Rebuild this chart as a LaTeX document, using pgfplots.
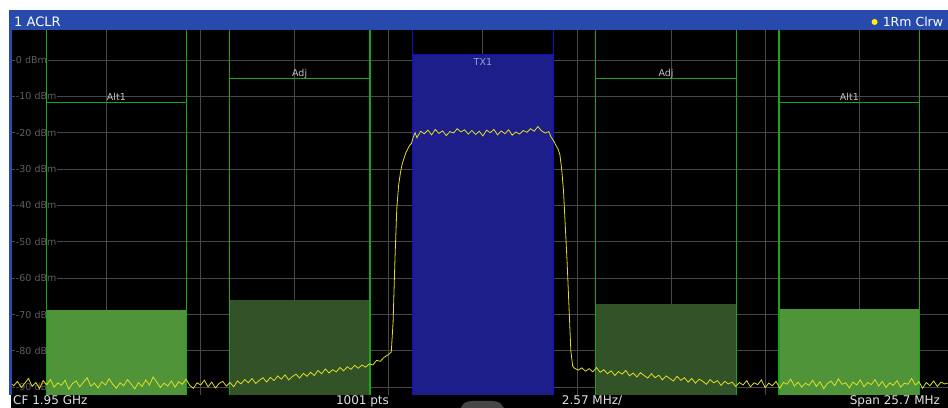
\documentclass[border=0pt]{standalone}
\usepackage{pgfplots}
\usepackage{pgfplotstable}
\pgfplotsset{compat=1.18}
\usepackage{fontspec}
\setmainfont{DejaVu Sans}
\definecolor{titleblue}{RGB}{40,74,172}
\definecolor{gridgray}{RGB}{72,72,72}
\definecolor{chgreen}{RGB}{25,165,25}
\definecolor{altfill}{RGB}{80,148,58}
\definecolor{adjfill}{RGB}{50,82,40}
\definecolor{txfill}{RGB}{30,30,138}
\definecolor{txline}{RGB}{15,15,200}
\definecolor{tracecol}{RGB}{222,222,40}
\definecolor{lblgray}{RGB}{95,95,95}
\definecolor{chlbl}{RGB}{195,195,195}
\definecolor{txlbl}{RGB}{160,160,205}
\definecolor{tabgray}{RGB}{70,70,70}

\pgfplotstableread{
x y
-12.85 -89.2
-12.8 -89.6
-12.7 -88.4
-12.6 -90.1
-12.5 -88.9
-12.4 -87.6
-12.3 -89.8
-12.2 -88.7
-12.1 -90.4
-12.0 -88.2
-11.9 -89.3
-11.8 -87.9
-11.7 -90.0
-11.6 -88.8
-11.5 -89.5
-11.4 -88.1
-11.3 -90.6
-11.2 -89.0
-11.1 -88.3
-11.0 -89.9
-10.9 -88.6
-10.8 -87.4
-10.7 -89.7
-10.6 -88.9
-10.5 -90.2
-10.4 -88.5
-10.3 -89.4
-10.2 -87.7
-10.1 -89.2
-10.0 -90.3
-9.9 -88.8
-9.8 -89.6
-9.7 -87.9
-9.6 -89.1
-9.5 -90.5
-9.4 -88.7
-9.3 -89.8
-9.2 -88.0
-9.1 -89.4
-9.0 -87.2
-8.9 -88.6
-8.8 -90.1
-8.7 -88.9
-8.6 -89.7
-8.5 -88.3
-8.4 -90.0
-8.3 -88.5
-8.2 -89.2
-8.1 -87.8
-8.0 -89.5
-7.9 -90.3
-7.8 -88.8
-7.7 -89.4
-7.6 -88.1
-7.5 -89.9
-7.4 -88.6
-7.3 -90.2
-7.2 -89.0
-7.1 -88.4
-7.0 -89.7
-6.9 -88.7
-6.8 -89.9
-6.7 -88.3
-6.6 -89.1
-6.5 -87.9
-6.4 -88.8
-6.3 -87.6
-6.2 -89.0
-6.1 -88.1
-6.0 -87.4
-5.9 -88.6
-5.8 -87.3
-5.7 -88.2
-5.6 -86.9
-5.5 -87.8
-5.4 -86.6
-5.3 -88.0
-5.2 -87.1
-5.1 -86.4
-5.0 -87.5
-4.9 -86.2
-4.8 -87.0
-4.7 -85.9
-4.6 -86.8
-4.5 -85.4
-4.4 -86.3
-4.3 -85.0
-4.2 -86.1
-4.1 -85.2
-4.0 -85.8
-3.9 -84.6
-3.8 -85.5
-3.7 -84.4
-3.6 -85.1
-3.5 -84.0
-3.4 -84.8
-3.3 -83.9
-3.2 -84.5
-3.1 -83.6
-3.0 -83.9
-2.9 -82.6
-2.8 -82.9
-2.7 -81.8
-2.6 -81.2
-2.55 -80.8
-2.5 -80.3
-2.45 -72.0
-2.4 -55.0
-2.35 -41.0
-2.3 -34.5
-2.25 -31.0
-2.2 -28.5
-2.15 -27.0
-2.1 -25.5
-2.05 -24.5
-2.0 -23.5
-1.95 -23.0
-1.9 -21.2
-1.85 -20.0
-1.8 -21.4
-1.7 -19.6
-1.6 -20.3
-1.5 -19.3
-1.4 -20.6
-1.3 -19.1
-1.2 -20.2
-1.1 -19.5
-1.0 -20.8
-0.9 -19.7
-0.8 -20.1
-0.7 -18.9
-0.6 -19.8
-0.5 -19.2
-0.4 -20.4
-0.3 -19.4
-0.2 -20.5
-0.1 -19.6
0.0 -20.9
0.1 -19.3
0.2 -20.0
0.3 -19.1
0.4 -20.6
0.5 -19.5
0.6 -20.3
0.7 -19.2
0.8 -20.7
0.9 -19.8
1.0 -20.4
1.1 -19.4
1.2 -19.9
1.3 -18.9
1.4 -19.6
1.5 -18.3
1.6 -19.5
1.7 -20.1
1.8 -19.7
1.85 -21.0
1.9 -21.8
1.95 -22.6
2.0 -23.6
2.05 -24.5
2.1 -26.0
2.15 -30.0
2.2 -36.0
2.25 -46.0
2.3 -56.0
2.35 -68.0
2.4 -80.0
2.45 -84.2
2.5 -84.8
2.6 -85.3
2.7 -84.7
2.8 -85.6
2.9 -84.9
3.0 -85.8
3.1 -84.6
3.2 -85.9
3.3 -85.2
3.4 -86.3
3.5 -85.5
3.6 -86.8
3.7 -85.7
3.8 -86.4
3.9 -85.4
4.0 -86.9
4.1 -86.1
4.2 -87.2
4.3 -86.0
4.4 -86.8
4.5 -87.5
4.6 -86.3
4.7 -87.4
4.8 -86.7
4.9 -88.0
5.0 -86.9
5.1 -87.6
5.2 -88.3
5.3 -87.0
5.4 -88.1
5.5 -87.4
5.6 -88.6
5.7 -87.6
5.8 -88.9
5.9 -87.8
6.0 -88.4
6.1 -89.2
6.2 -87.9
6.3 -88.8
6.4 -88.2
6.5 -89.5
6.6 -88.4
6.7 -89.1
6.8 -88.6
6.9 -89.8
7.0 -88.7
7.1 -89.4
7.2 -88.2
7.3 -89.9
7.4 -88.8
7.5 -89.3
7.6 -88.0
7.7 -90.1
7.8 -88.9
7.9 -89.6
8.0 -88.4
8.1 -90.3
8.2 -88.7
8.3 -89.2
8.4 -87.8
8.5 -89.7
8.6 -88.6
8.7 -90.0
8.8 -88.9
8.9 -89.5
9.0 -88.1
9.1 -89.8
9.2 -88.5
9.3 -90.4
9.4 -89.0
9.5 -88.3
9.6 -89.6
9.7 -87.7
9.8 -89.2
9.9 -88.8
10.0 -90.2
10.1 -88.6
10.2 -89.4
10.3 -88.0
10.4 -89.9
10.5 -88.7
10.6 -89.3
10.7 -87.9
10.8 -89.7
10.9 -88.4
11.0 -90.1
11.1 -88.8
11.2 -89.5
11.3 -88.2
11.4 -90.0
11.5 -88.9
11.6 -89.2
11.7 -87.6
11.8 -89.4
11.9 -88.5
12.0 -90.3
12.1 -88.7
12.2 -89.6
12.3 -88.3
12.4 -89.8
12.5 -88.6
12.6 -89.1
12.7 -88.9
}\tracetable

\begin{document}
\begin{tikzpicture}[x=1bp,y=1bp,
  lbl/.style={anchor=west, fill=black, inner sep=0.8bp, xshift=3bp, text=lblgray,
     font=\fontsize{9.5bp}{11bp}\selectfont},
  chl/.style={anchor=base, inner sep=0pt, yshift=2.6bp, text=chlbl,
     font=\fontsize{9.5bp}{11bp}\selectfont},
  btxt/.style={anchor=base west, inner sep=0pt, text=white!88!black,
     font=\fontsize{12bp}{14bp}\selectfont}]
\fill[white] (-12,-13) rectangle (936,395);
\begin{axis}[
  at={(0,0)}, anchor=south west,
  scale only axis, width=936bp, height=365bp,
  xmin=-12.85, xmax=12.68, ymin=-92.1, ymax=8.25,
  axis line style={draw=none},
  tick style={draw=none},
  xtick={-10.28,-7.71,-5.14,-2.57,0,2.57,5.14,7.71,10.28},
  ytick={-90,-80,-70,-60,-50,-40,-30,-20,-10,0},
  xticklabels={}, yticklabels={},
  grid=major,
  major grid style={gridgray, line width=0.9bp},
  axis background/.style={fill=black},
  clip=true,
]
% y scale labels
\node[lbl] at (axis cs:-12.85,0) {0 dBm};
\node[lbl] at (axis cs:-12.85,-10) {-10 dBm};
\node[lbl] at (axis cs:-12.85,-20) {-20 dBm};
\node[lbl] at (axis cs:-12.85,-30) {-30 dBm};
\node[lbl] at (axis cs:-12.85,-40) {-40 dBm};
\node[lbl] at (axis cs:-12.85,-50) {-50 dBm};
\node[lbl] at (axis cs:-12.85,-60) {-60 dBm};
\node[lbl] at (axis cs:-12.85,-70) {-70 dBm};
\node[lbl] at (axis cs:-12.85,-80) {-80 dBm};
\node[lbl] at (axis cs:-12.85,-90) {-90 dBm};
% channel power bars
\addplot[draw=none, fill=altfill] coordinates {(-11.92,-92.1) (-11.92,-68.9) (-8.08,-68.9) (-8.08,-92.1)} -- cycle;
\addplot[draw=none, fill=adjfill] coordinates {(-6.92,-92.1) (-6.92,-66.1) (-3.08,-66.1) (-3.08,-92.1)} -- cycle;
\addplot[draw=none, fill=adjfill] coordinates {(3.08,-92.1) (3.08,-67.0) (6.92,-67.0) (6.92,-92.1)} -- cycle;
\addplot[draw=none, fill=altfill] coordinates {(8.08,-92.1) (8.08,-68.4) (11.92,-68.4) (11.92,-92.1)} -- cycle;
% TX channel
\addplot[draw=none, fill=txfill] coordinates {(-1.92,-92.1) (-1.92,1.5) (1.92,1.5) (1.92,-92.1)} -- cycle;
\addplot[txline, line width=1.2bp] coordinates {(-1.92,1.5) (1.92,1.5)};
\addplot[txline, line width=1.2bp] coordinates {(-1.92,-92.1) (-1.92,8.25)};
\addplot[txline, line width=1.2bp] coordinates {(1.92,-92.1) (1.92,8.25)};
% channel borders
\addplot[chgreen, line width=1.1bp] coordinates {(-11.92,-92.1) (-11.92,8.25)};
\addplot[chgreen, line width=1.1bp] coordinates {(-8.08,-92.1) (-8.08,8.25)};
\addplot[chgreen, line width=1.1bp] coordinates {(-6.92,-92.1) (-6.92,8.25)};
\addplot[chgreen, line width=1.1bp] coordinates {(-3.08,-92.1) (-3.08,8.25)};
\addplot[chgreen, line width=1.1bp] coordinates {(3.08,-92.1) (3.08,8.25)};
\addplot[chgreen, line width=1.1bp] coordinates {(6.92,-92.1) (6.92,8.25)};
\addplot[chgreen, line width=1.1bp] coordinates {(8.08,-92.1) (8.08,8.25)};
\addplot[chgreen, line width=1.1bp] coordinates {(11.92,-92.1) (11.92,8.25)};
% limit lines
\addplot[chgreen, line width=1.1bp] coordinates {(-11.92,-11.74) (-8.08,-11.74)};
\addplot[chgreen, line width=1.1bp] coordinates {(-6.92,-5.14) (-3.08,-5.14)};
\addplot[chgreen, line width=1.1bp] coordinates {(3.08,-5.14) (6.92,-5.14)};
\addplot[chgreen, line width=1.1bp] coordinates {(8.08,-11.74) (11.92,-11.74)};
% channel labels
\node[chl] at (axis cs:-10,-11.74) {Alt1};
\node[chl] at (axis cs:-5,-5.14) {Adj};
\node[chl] at (axis cs:5,-5.14) {Adj};
\node[chl] at (axis cs:10,-11.74) {Alt1};
\node[anchor=base, inner sep=0pt, text=txlbl, font=\fontsize{9.5bp}{11bp}\selectfont] at (axis cs:0,-1.4) {TX1};
% trace
\addplot[tracecol, line width=0.8bp, mark=none] table[x=x, y=y] {\tracetable};
\end{axis}
% window frame
\fill[titleblue] (-3,365) rectangle (936,385);
\fill[titleblue] (-3,0) rectangle (0,365);
\fill[black] (-1,-13) rectangle (936,0);
\node[anchor=base west, inner sep=0pt, text=white, font=\fontsize{13bp}{15bp}\selectfont] at (2,368) {1 ACLR};
\fill[yellow] (863,373) circle (3);
\node[anchor=base west, inner sep=0pt, text=white, font=\fontsize{12.5bp}{15bp}\selectfont] at (871,368) {1Rm Clrw};
\fill[tabgray] (449,-13) .. controls (453,-7) .. (462,-6) -- (479,-6) .. controls (488,-7) .. (492,-13) -- cycle;
\node[btxt] at (1,-10) {CF 1.95 GHz};
\node[btxt] at (324,-10) {1001 pts};
\node[btxt] at (550,-10) {2.57 MHz/};
\begin{pgfinterruptboundingbox}
\begin{scope}
\clip (-12,-13) rectangle (936,395);
\node[btxt] at (838,-10) {Span 25.7 MHz};
\end{scope}
\end{pgfinterruptboundingbox}
\end{tikzpicture}
\end{document}
